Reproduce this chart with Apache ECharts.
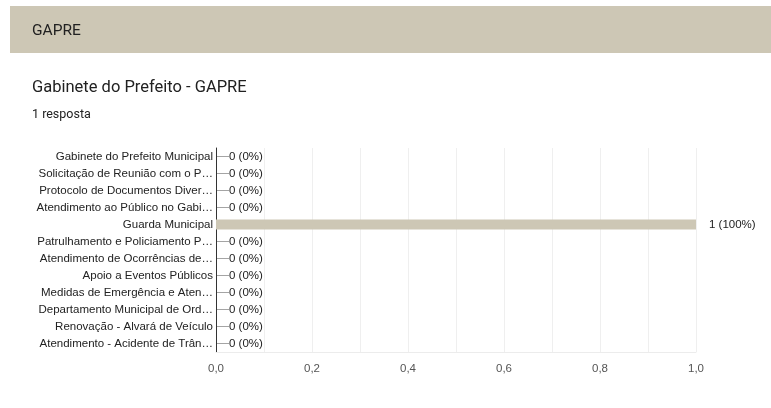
<!DOCTYPE html>
<html>
<head>
<meta charset="utf-8">
<script src="https://cdn.jsdelivr.net/npm/echarts@6/dist/echarts.min.js"></script>
<style>
  html, body { margin: 0; padding: 0; background: #fff; }
  #chart { width: 771px; height: 408px; }
</style>
</head>
<body>
<div id="chart"></div>
<script>
const categories = [
  "Gabinete do Prefeito Municipal",
  "Solicitação de Reunião com o P…",
  "Protocolo de Documentos Diver…",
  "Atendimento ao Público no Gabi…",
  "Guarda Municipal",
  "Patrulhamento e Policiamento P…",
  "Atendimento de Ocorrências de…",
  "Apoio a Eventos Públicos",
  "Medidas de Emergência e Aten…",
  "Departamento Municipal de Ord…",
  "Renovação - Alvará de Veículo",
  "Atendimento - Acidente de Trân…",
];
const counts = [0, 0, 0, 0, 1, 0, 0, 0, 0, 0, 0, 0];
const total = 1;

let chart = echarts.init(document.getElementById("chart"));

chart.setOption({
  animation: false,
  textStyle: { fontFamily: "Liberation Sans" },
  graphic: [
    {
      type: "rect",
      shape: { x: 10, y: 6, width: 761, height: 47 },
      style: { fill: "#cdc7b5" },
    },
    {
      type: "text",
      x: 32, y: 31,
      style: {
        text: "GAPRE", font: "15.5px Roboto", fill: "#212121",
        verticalAlign: "middle",
      },
    },
    {
      type: "text",
      x: 32, y: 88,
      style: {
        text: "Gabinete do Prefeito - GAPRE", font: "16.5px Roboto", fill: "#212121",
        verticalAlign: "middle",
      },
    },
    {
      type: "text",
      x: 32, y: 115,
      style: {
        text: "1 resposta", font: "12.5px Roboto", fill: "#212121",
        verticalAlign: "middle",
      },
    },
  ],
  grid: { left: 216, right: 75, top: 148, height: 204 },
  xAxis: {
    type: "value",
    min: 0,
    max: 1,
    interval: 0.1,
    axisLine: { show: true, lineStyle: { color: "#ececec" } },
    axisTick: { show: false },
    splitLine: { lineStyle: { color: "#efefef" } },
    axisLabel: {
      color: "#555",
      fontSize: 11.5,
      margin: 11,
      formatter: (v) =>
        Math.round(v * 10) % 2 === 0 ? v.toFixed(1).replace(".", ",") : "",
    },
  },
  yAxis: {
    type: "category",
    data: categories,
    inverse: true,
    axisLine: { lineStyle: { color: "#333" } },
    axisTick: { show: false },
    axisLabel: { color: "#222", fontSize: 11.5, margin: 3 },
  },
  series: [
    {
      type: "bar",
      data: counts,
      barWidth: 10,
      itemStyle: { color: "#cdc7b5" },
      label: {
        show: true,
        position: "right",
        distance: 1,
        color: "#222",
        fontSize: 11.5,
        formatter: (p) =>
          p.value === 0
            ? "{d|—}0 (0%)"
            : "{g|}" + p.value + " (" + Math.round((p.value / total) * 100) + "%)",
        rich: {
          d: { color: "#999", fontSize: 12 },
          g: { width: 12 },
        },
      },
    },
  ],
});
</script>
</body>
</html>
